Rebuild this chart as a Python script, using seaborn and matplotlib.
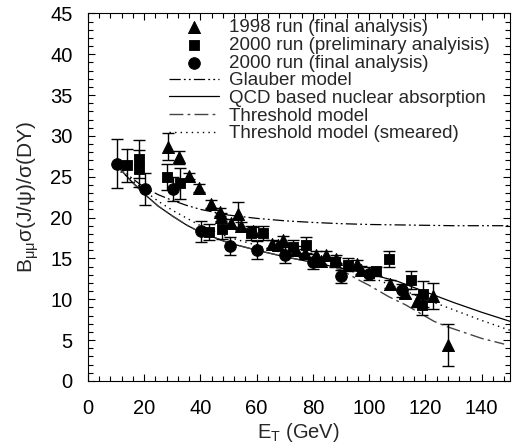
import matplotlib
matplotlib.use("Agg")
import matplotlib.pyplot as plt
import seaborn as sns
import pandas as pd
from matplotlib.ticker import MultipleLocator

# ---- data: 1998 run (final analysis), triangles
tri_x = [28.5, 32.3, 35.9, 39.4, 43.9, 47.1, 47.5, 51.0, 53.2, 54.4, 58.6, 65.3, 67.6, 69.4,
         74.1, 77.1, 81.2, 83.0, 84.8, 88.2, 95.7, 97.2, 107.4, 112.8, 117.0, 122.7, 128.0]
tri_y = [28.7, 27.4, 25.1, 23.6, 21.7, 20.7, 20.1, 19.3, 20.4, 19.0, 18.3, 16.8, 16.6, 17.3,
         16.0, 15.6, 15.4, 14.7, 15.4, 14.9, 14.3, 13.6, 11.9, 10.7, 9.8, 10.4, 4.4]
tri_e = [1.6, 0.8, 0.4, 0.5, 0.5, 0.5, 0.5, 0.5, 1.5, 0.5, 0.6, 0.5, 0.5, 0.5,
         0.5, 0.5, 0.5, 0.5, 0.5, 0.5, 0.5, 0.5, 0.5, 0.6, 0.8, 1.6, 2.6]

# ---- 2000 run (preliminary analysis), squares
sq_x = [13.8, 18.0, 18.2, 28.1, 32.7, 42.9, 47.6, 58.0, 62.3, 72.9, 77.5, 87.7, 92.6,
        102.5, 107.0, 115.0, 119.0, 118.7]
sq_y = [26.4, 27.2, 26.0, 25.0, 24.2, 18.2, 18.6, 18.1, 18.1, 16.4, 16.6, 14.6, 14.2,
        13.4, 14.9, 12.3, 10.6, 9.3]
sq_e = [2.0, 2.3, 2.3, 1.6, 1.9, 1.0, 1.2, 0.9, 0.9, 0.9, 1.0, 0.6, 0.8,
        0.5, 1.0, 1.1, 1.6, 1.2]

# ---- 2000 run (final analysis), circles
ci_x = [10.4, 20.4, 30.3, 40.1, 50.4, 60.1, 70.2, 80.0, 90.1, 99.9, 111.8]
ci_y = [26.6, 23.5, 23.5, 18.3, 16.5, 16.0, 15.4, 14.6, 12.8, 13.1, 11.1]
ci_e = [3.0, 2.0, 1.5, 1.3, 1.1, 1.1, 1.0, 0.9, 0.8, 0.8, 0.8]

# ---- model curves
gl_x = [10, 15, 20, 25, 30, 35, 40, 50, 60, 70, 80, 90, 100, 110, 120, 130, 140, 150]
gl_y = [26.6, 25.0, 23.7, 22.8, 22.1, 21.5, 21.0, 20.3, 19.9, 19.6, 19.4, 19.25, 19.15,
        19.1, 19.05, 19.0, 19.0, 19.0]

qcd_x = [10, 15, 20, 25, 30, 35, 40, 50, 60, 70, 80, 90, 100, 110, 120, 130, 140, 150]
qcd_y = [26.5, 24.6, 22.9, 21.4, 20.2, 19.1, 18.2, 16.9, 16.0, 15.2, 14.5, 13.8, 13.1,
         12.2, 10.9, 9.6, 8.4, 7.3]

thr_x = [10, 15, 20, 25, 30, 35, 40, 50, 60, 70, 80, 90, 96, 100, 107, 113, 123, 128, 140, 148]
thr_y = [26.5, 24.6, 22.9, 21.4, 20.2, 19.1, 18.2, 16.9, 16.0, 15.2, 14.5, 13.6, 12.4, 11.7,
         10.3, 9.3, 7.3, 6.6, 5.2, 4.5]

sm_x = [10, 15, 20, 25, 30, 40, 50, 60, 70, 80, 90, 100, 110, 120, 130, 140, 150]
sm_y = [26.0, 24.8, 23.3, 22.0, 20.9, 19.0, 17.6, 16.6, 15.6, 14.7, 13.8, 12.8, 11.4,
        10.0, 8.7, 7.4, 6.2]

x_ticks = [0, 20, 40, 60, 80, 100, 120, 140]
y_ticks = [0, 5, 10, 15, 20, 25, 30, 35, 40, 45]

sns.set_style("ticks")
plt.rcParams["font.family"] = ["Liberation Sans", "DejaVu Sans"]
plt.rcParams["mathtext.fontset"] = "custom"
plt.rcParams["mathtext.rm"] = "Liberation Sans"
plt.rcParams["mathtext.it"] = "Liberation Sans"

fig = plt.figure(figsize=(5.17, 4.47), dpi=100)
ax = fig.add_axes([0.170, 0.148, 0.816, 0.822])

# curves
sns.lineplot(x=gl_x, y=gl_y, ax=ax, color="black", lw=0.9,
             linestyle=(0, (9, 2.5, 1.5, 2.5, 1.5, 2.5)), label="Glauber model")
sns.lineplot(x=qcd_x, y=qcd_y, ax=ax, color="black", lw=0.9, linestyle="-",
             label="QCD based nuclear absorption")
sns.lineplot(x=thr_x, y=thr_y, ax=ax, color="#444444", lw=1.0,
             linestyle=(0, (10, 3, 2, 3)), label="Threshold model")
sns.lineplot(x=sm_x, y=sm_y, ax=ax, color="black", lw=1.0,
             linestyle=(0, (1, 3)), label="Threshold model (smeared)")

# error bars
for xs, ys, es in [(tri_x, tri_y, tri_e), (sq_x, sq_y, sq_e), (ci_x, ci_y, ci_e)]:
    ax.errorbar(xs, ys, yerr=es, fmt="none", ecolor="black", elinewidth=1.0,
                capsize=4, capthick=1.0)

# markers
sns.scatterplot(x=tri_x, y=tri_y, ax=ax, marker="^", s=75, color="black",
                edgecolor="black", label="1998 run (final analysis)", zorder=5)
sns.scatterplot(x=sq_x, y=sq_y, ax=ax, marker="s", s=60, color="black",
                edgecolor="black", label="2000 run (preliminary analyisis)", zorder=5)
sns.scatterplot(x=ci_x, y=ci_y, ax=ax, marker="o", s=70, color="black",
                edgecolor="black", label="2000 run (final analysis)", zorder=5)

ax.set_xlim(0, 150)
ax.set_ylim(0, 45)
ax.set_xticks(x_ticks)
ax.set_yticks(y_ticks)
ax.xaxis.set_minor_locator(MultipleLocator(4))
ax.yaxis.set_minor_locator(MultipleLocator(1))
ax.tick_params(which="both", direction="in", top=True, right=True, labelsize=14.5,
               width=0.8, colors="black")
ax.tick_params(which="major", length=5)
ax.tick_params(which="minor", length=3.5)
ax.tick_params(axis="x", pad=13)
ax.tick_params(axis="y", pad=11)
for s in ax.spines.values():
    s.set_linewidth(0.8)
    s.set_color("black")

ax.set_xlabel(r"E$_{\mathrm{T}}$ (GeV)", fontsize=14.5, labelpad=2)
ax.set_ylabel(r"B$_{\mu\mu}\sigma$(J/$\psi$)/$\sigma$(DY)", fontsize=15, labelpad=7)

h, l = ax.get_legend_handles_labels()
order = [4, 5, 6, 0, 1, 2, 3]
ax.legend([h[i] for i in order], [l[i] for i in order], loc="upper left",
          bbox_to_anchor=(0.16, 1.02), frameon=False, fontsize=13.5,
          handlelength=2.7, handletextpad=0.55, labelspacing=0.03, borderaxespad=0.3)

fig.savefig("out.png", dpi=100)
